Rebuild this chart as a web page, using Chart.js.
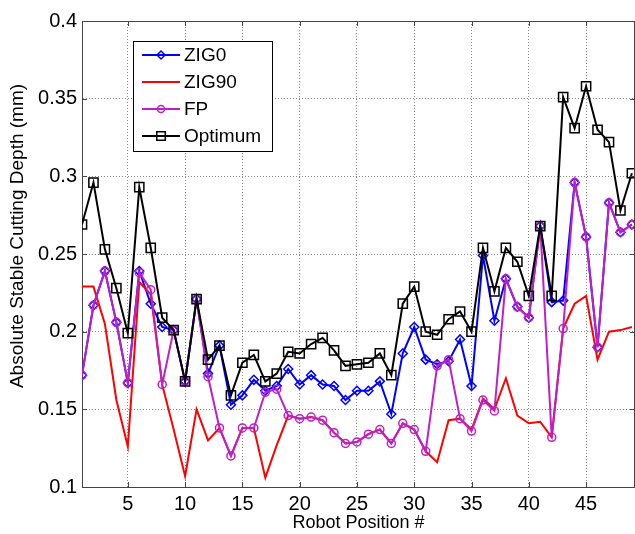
<!doctype html>
<html>

<head>
	<title>Absolute Stable Cutting Depth</title>
	<script src="https://cdn.jsdelivr.net/npm/chart.js@4/dist/chart.umd.min.js"></script>
	<style>
		body {
			margin: 0;
			background: #fff;
		}
	</style>
</head>

<body>
	<canvas id="canvas" width="635" height="534"></canvas>
	<script>
		const positions = [1, 2, 3, 4, 5, 6, 7, 8, 9, 10, 11, 12, 13, 14, 15, 16, 17, 18, 19, 20, 21, 22, 23, 24, 25,
			26, 27, 28, 29, 30, 31, 32, 33, 34, 35, 36, 37, 38, 39, 40, 41, 42, 43, 44, 45, 46, 47, 48, 49];

		const zig0 = [0.172, 0.217, 0.239, 0.206, 0.167, 0.239, 0.218, 0.203, 0.201, 0.168, 0.221, 0.173, 0.191, 0.153, 0.159,
			0.169, 0.162, 0.165, 0.176, 0.166, 0.172, 0.166, 0.165, 0.156, 0.162, 0.162, 0.168, 0.147, 0.186, 0.203,
			0.182, 0.179, 0.181, 0.195, 0.165, 0.249, 0.207, 0.234, 0.216, 0.209, 0.268, 0.219, 0.220, 0.296, 0.261,
			0.190, 0.283, 0.264, 0.269];

		const zig90 = [0.229, 0.229, 0.205, 0.156, 0.126, 0.232, 0.224, 0.166, 0.137, 0.107, 0.150, 0.130, 0.138, 0.120, 0.138,
			0.138, 0.106, 0.127, 0.146, 0.144, 0.145, 0.143, 0.135, 0.128, 0.129, 0.134, 0.137, 0.128, 0.141, 0.137,
			0.123, 0.116, 0.143, 0.144, 0.137, 0.157, 0.150, 0.170, 0.146, 0.141, 0.142, 0.132, 0.202, 0.218, 0.223,
			0.182, 0.200, 0.201, 0.203];

		const fp = [0.172, 0.217, 0.239, 0.206, 0.167, 0.238, 0.227, 0.166, 0.201, 0.168, 0.221, 0.171, 0.138, 0.120, 0.138,
			0.138, 0.161, 0.163, 0.146, 0.144, 0.145, 0.143, 0.135, 0.128, 0.129, 0.134, 0.137, 0.128, 0.141, 0.137,
			0.123, 0.178, 0.182, 0.144, 0.136, 0.156, 0.149, 0.234, 0.216, 0.209, 0.268, 0.132, 0.202, 0.296, 0.261,
			0.190, 0.283, 0.264, 0.269];

		const optimum = [0.269, 0.296, 0.253, 0.228, 0.199, 0.293, 0.254, 0.209, 0.201, 0.168, 0.221, 0.182, 0.191, 0.159, 0.180,
			0.185, 0.168, 0.173, 0.187, 0.186, 0.192, 0.196, 0.188, 0.178, 0.179, 0.180, 0.186, 0.172, 0.218, 0.229,
			0.200, 0.198, 0.208, 0.213, 0.200, 0.254, 0.226, 0.254, 0.245, 0.223, 0.268, 0.223, 0.351, 0.331, 0.358,
			0.330, 0.322, 0.278, 0.302];

		const xTicks = [5, 10, 15, 20, 25, 30, 35, 40, 45];
		const yTicks = [0.1, 0.15, 0.2, 0.25, 0.3, 0.35, 0.4];

		const FONT = "'Liberation Sans', Arial, sans-serif";
		const MAGENTA = '#bf1fc9';

		const toPoints = (values) => positions.map((p, i) => ({ x: p, y: values[i] }));

		const series = [
			{ label: 'ZIG0', values: zig0, color: '#0000ff', style: 'rectRot', radius: 4.5, order: 4 },
			{ label: 'ZIG90', values: zig90, color: '#ff0000', style: false, radius: 0, order: 3 },
			{ label: 'FP', values: fp, color: MAGENTA, style: 'circle', radius: 4, order: 2 },
			{ label: 'Optimum', values: optimum, color: '#000000', style: 'rect', radius: 6.5, order: 1 }
		];

		// draw a marker the way the legend needs it (line with marker in the middle)
		function marker(ctx, style, x, y, r) {
			ctx.beginPath();
			if (style === 'circle') {
				ctx.arc(x, y, r, 0, Math.PI * 2);
			} else if (style === 'rect') {
				const s = r * Math.SQRT1_2;
				ctx.rect(x - s, y - s, 2 * s, 2 * s);
			} else if (style === 'rectRot') {
				ctx.moveTo(x, y - r);
				ctx.lineTo(x + r, y);
				ctx.lineTo(x, y + r);
				ctx.lineTo(x - r, y);
				ctx.closePath();
			}
			ctx.stroke();
		}

		const framePlugin = {
			id: 'frame',
			afterDraw(chart) {
				const ctx = chart.ctx;
				const area = chart.chartArea;
				const xs = chart.scales.x;
				const ys = chart.scales.y;
				ctx.save();
				ctx.strokeStyle = '#444';
				ctx.lineWidth = 1;
				ctx.setLineDash([]);
				ctx.beginPath();
				ctx.moveTo(area.left, area.top + 0.5);
				ctx.lineTo(area.right, area.top + 0.5);
				ctx.moveTo(area.right - 0.5, area.top);
				ctx.lineTo(area.right - 0.5, area.bottom);
				// inward tick marks
				xTicks.forEach((v) => {
					const px = Math.round(xs.getPixelForValue(v)) + 0.5;
					ctx.moveTo(px, area.bottom);
					ctx.lineTo(px, area.bottom - 5);
					ctx.moveTo(px, area.top);
					ctx.lineTo(px, area.top + 5);
				});
				yTicks.forEach((v) => {
					const py = Math.round(ys.getPixelForValue(v)) + 0.5;
					ctx.moveTo(area.left, py);
					ctx.lineTo(area.left + 5, py);
					ctx.moveTo(area.right, py);
					ctx.lineTo(area.right - 5, py);
				});
				ctx.stroke();

				// y axis title
				ctx.fillStyle = '#000';
				ctx.font = '19px ' + FONT;
				ctx.textAlign = 'center';
				ctx.textBaseline = 'middle';
				ctx.translate(18, 236);
				ctx.rotate(-Math.PI / 2);
				ctx.fillText('Absolute Stable Cutting Depth (mm)', 0, 0);
				ctx.restore();

				// legend box
				ctx.save();
				ctx.fillStyle = '#fff';
				ctx.strokeStyle = '#000';
				ctx.lineWidth = 1;
				ctx.fillRect(133.5, 41.5, 139, 110);
				ctx.strokeRect(133.5, 41.5, 139, 110);
				const rows = [55, 82, 109, 136];
				series.forEach((s, i) => {
					const y = rows[i];
					ctx.strokeStyle = s.color;
					ctx.lineWidth = 2;
					ctx.beginPath();
					ctx.moveTo(142, y);
					ctx.lineTo(180, y);
					ctx.stroke();
					ctx.lineWidth = 1.5;
					if (s.style) {
						marker(ctx, s.style, 161, y, s.radius - 0.5);
					}
					ctx.fillStyle = '#000';
					ctx.font = '19px ' + FONT;
					ctx.textAlign = 'left';
					ctx.textBaseline = 'middle';
					ctx.fillText(s.label, 184, y + 1);
				});
				ctx.restore();
			}
		};

		window.onload = function() {
			const ctx = document.getElementById('canvas').getContext('2d');
			window.myChart = new Chart(ctx, {
				type: 'line',
				data: {
					datasets: series.map((s) => ({
						label: s.label,
						data: toPoints(s.values),
						order: s.order,
						borderColor: s.color,
						backgroundColor: 'transparent',
						borderWidth: 2,
						pointStyle: s.style,
						pointRadius: s.radius,
						pointBorderColor: s.color,
						pointBackgroundColor: 'transparent',
						pointBorderWidth: 1.5,
						tension: 0
					}))
				},
				options: {
					responsive: false,
					animation: false,
					devicePixelRatio: 1,
					layout: {
						autoPadding: false,
						padding: { top: 21, right: -4, bottom: 0, left: 0 }
					},
					plugins: {
						legend: { display: false },
						tooltip: { enabled: false }
					},
					scales: {
						x: {
							type: 'linear',
							min: 1,
							max: 49.27,
							afterBuildTicks(scale) {
								scale.ticks = xTicks.map((v) => ({ value: v }));
							},
							afterFit(scale) {
								scale.height = 47;
								scale.paddingLeft = 0;
								scale.paddingRight = 0;
							},
							grid: {
								color: '#888',
								drawTicks: false
							},
							border: {
								color: '#444',
								width: 1,
								dash: [1, 2]
							},
							ticks: {
								color: '#000',
								padding: 5,
								maxRotation: 0,
								font: { family: FONT, size: 20 }
							},
							title: {
								display: true,
								text: 'Robot Position #',
								color: '#000',
								font: { family: FONT, size: 18 },
								padding: { top: 0, bottom: 0 }
							}
						},
						y: {
							min: 0.1,
							max: 0.4,
							afterBuildTicks(scale) {
								scale.ticks = yTicks.map((v) => ({ value: v }));
							},
							afterFit(scale) {
								scale.width = 82;
								scale.paddingTop = 0;
								scale.paddingBottom = 0;
							},
							grid: {
								color: '#888',
								drawTicks: false
							},
							border: {
								color: '#444',
								width: 1,
								dash: [1, 2]
							},
							ticks: {
								color: '#000',
								padding: 5,
								font: { family: FONT, size: 20 },
								callback: (v) => String(Math.round(v * 100) / 100)
							}
						}
					}
				},
				plugins: [framePlugin]
			});
		};
	</script>
</body>

</html>
